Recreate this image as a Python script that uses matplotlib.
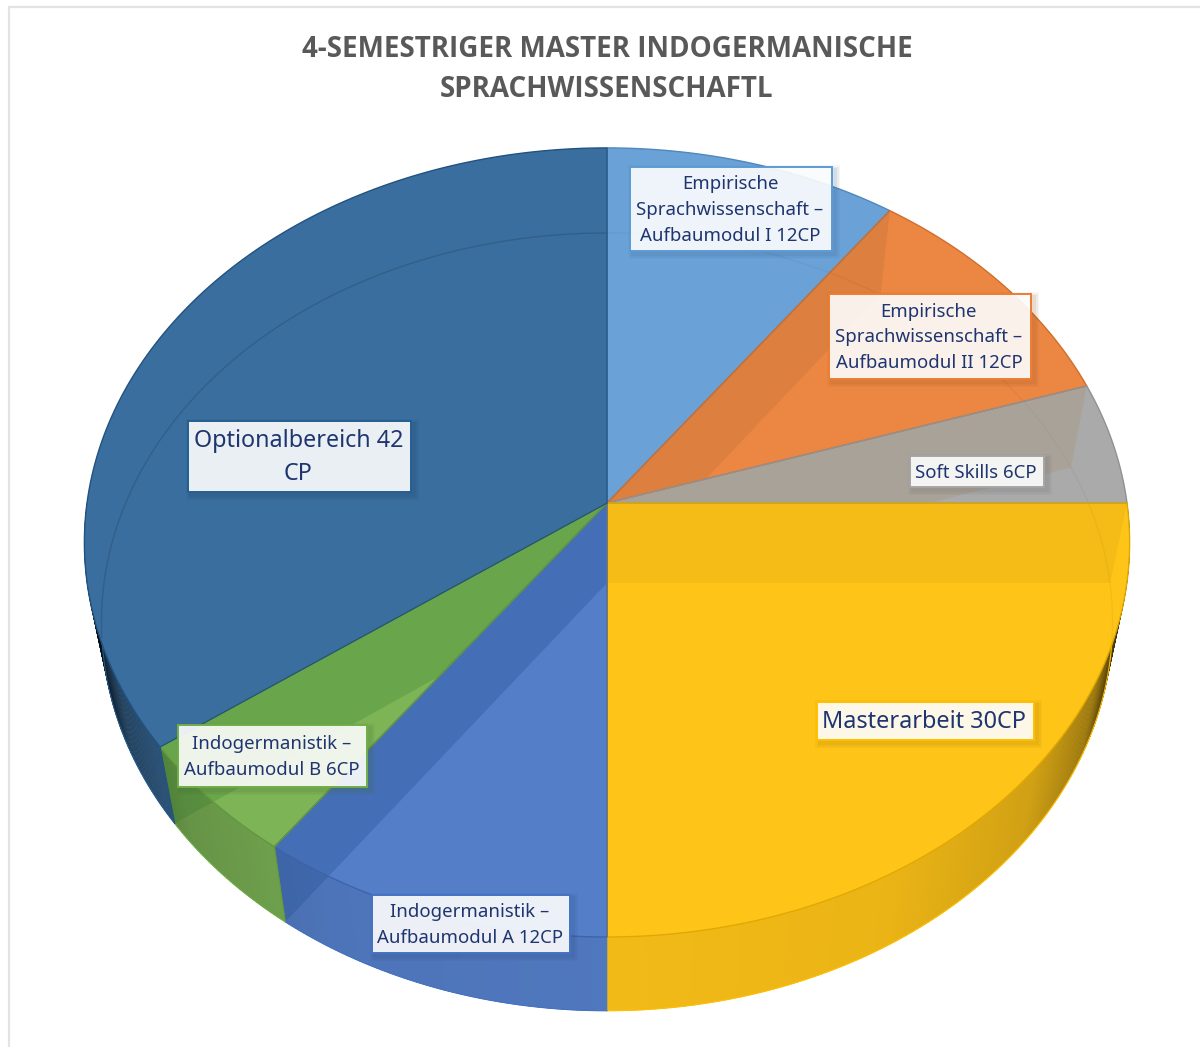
import numpy as np
import matplotlib
matplotlib.use('Agg')
import matplotlib.pyplot as plt
from matplotlib.collections import PolyCollection
from matplotlib.patches import Polygon, Rectangle
from matplotlib.colors import to_rgb

title = "4-SEMESTRIGER MASTER INDOGERMANISCHE\nSPRACHWISSENSCHAFTL"

# credit points, clockwise from 12 o'clock
labels = ["Empirische\nSprachwissenschaft –\nAufbaumodul I 12CP",
          "Empirische\nSprachwissenschaft –\nAufbaumodul II 12CP",
          "Soft Skills 6CP",
          "Masterarbeit 30CP",
          "Indogermanistik –\nAufbaumodul A 12CP",
          "Indogermanistik –\nAufbaumodul B 6CP",
          "Optionalbereich 42\nCP"]
values = [12, 12, 6, 30, 12, 6, 42]
colors = ['#6AA2D8', '#EB8742', '#AAAAAA', '#FFC418', '#547EC8', '#7CB456', '#3A6E9E']
edges = ['#5B9BD5', '#ED7D31', '#A5A5A5', '#FFC000', '#4472C4', '#70AD47', '#255E91']

# label boxes in pixels: x0, y0, x1, y1
boxes = [(630, 167, 832, 251), (829, 294, 1031, 379), (910, 456, 1044, 487),
         (817, 702, 1034, 740), (372, 895, 570, 953), (178, 725, 367, 787),
         (188, 421, 411, 492)]
label_sizes = [13.4, 13.4, 13.4, 16.9, 13.4, 13.4, 16.8]
label_spacing = [1.54, 1.54, 1.54, 1.2, 1.54, 1.54, 1.47]

# radial walls showing through a top face: boundary index, slice, colour, alpha
through = [(1, 1, '#000000', 0.06), (2, 2, '#A8977F', 0.4), (3, 3, '#000000', 0.04),
           (5, 4, '#1F4E90', 0.3), (6, 5, '#1F6B1F', 0.2)]

# perspective of the pie, top face and bottom face
CX = 607
K = 0.1
TOP = (503, 520, 390.6)
BOTTOM = (583, 503, 385)


def project(deg, face):
    y0, a, b = face
    th = np.radians(deg)
    den = 1 + K * np.cos(th)
    return np.column_stack([CX + a * np.sin(th) / den, y0 - b * np.cos(th) / den])


def arc(start, end, face, step=1.0):
    n = max(int(abs(end - start) / step), 2) + 1
    return project(np.linspace(start, end, n), face)


def shade(deg):
    t = np.abs(np.sin(np.radians(deg)))
    return np.interp(t, [0, .5, .77, .9, .95, .98, 1], [.95, .92, .82, .62, .32, .14, .1])


fig = plt.figure(figsize=(12, 10.47), dpi=100)
ax = fig.add_axes([0, 0, 1, 1])
ax.set_xlim(0, 1200)
ax.set_ylim(1047, 0)
ax.axis('off')

ax.plot([9, 9, 1200], [1047, 7, 7], color='#E3E3E3', lw=1.6, zorder=1)

angles = np.concatenate([[0], np.cumsum(values)]) * 360.0 / sum(values)

# outer walls with a shade running along the rim
wall_clips = {}
for i in range(len(values)):
    a0, a1 = angles[i], angles[i + 1]
    lo, hi = max(a0, 90), min(a1, 270)
    if hi <= lo:
        continue
    steps = np.arange(lo, hi, 0.5)
    quads, cols = [], []
    rgb = np.array(to_rgb(colors[i]))
    for s in steps:
        e = min(s + 0.6, hi)
        t = arc(s, e, TOP, 1)
        b = arc(s, e, BOTTOM, 1)
        quads.append(np.vstack([t, b[::-1]]))
        cols.append(tuple(rgb * shade(s + 0.25)))
    ax.add_collection(PolyCollection(quads, facecolors=cols, edgecolors=cols, linewidths=0.4, zorder=2))
    outline = np.vstack([arc(lo, hi, TOP), arc(lo, hi, BOTTOM)[::-1]])
    clip = Polygon(outline, closed=True, fc='none', ec='none', zorder=2)
    ax.add_patch(clip)
    wall_clips[i] = clip
    ax.plot(*arc(lo, hi, BOTTOM).T, color=edges[i], lw=0.8, zorder=2.1)

# top faces
top_clips = {}
for i in range(len(values)):
    pts = np.vstack([[[CX, TOP[0]]], arc(angles[i], angles[i + 1], TOP)])
    p = Polygon(pts, closed=True, fc=colors[i], ec='none', zorder=3)
    ax.add_patch(p)
    top_clips[i] = p

# back of the bottom rim, faint through the top faces
ax.plot(*arc(262, 360, BOTTOM).T, color='#000000', alpha=0.13, lw=1.0, zorder=3.2)
ax.plot(*arc(0, 100, BOTTOM).T, color='#000000', alpha=0.04, lw=1.0, zorder=3.2)

# radial walls seen through the slices
for k, i, col, alpha in through:
    a = np.array([angles[k]])
    wall = np.vstack([[[CX, TOP[0]]], project(a, TOP), project(a, BOTTOM), [[CX, BOTTOM[0]]]])
    for clip in [top_clips.get(i), wall_clips.get(i)]:
        if clip is None:
            continue
        o = Polygon(wall, closed=True, fc=col, ec='none', alpha=alpha, zorder=3.4)
        ax.add_patch(o)
        o.set_clip_path(clip)

# slice outlines
for i in range(len(values)):
    pts = np.vstack([[[CX, TOP[0]]], arc(angles[i], angles[i + 1], TOP)])
    ec = np.array(to_rgb(edges[i])) * 0.88
    ax.add_patch(Polygon(pts, closed=True, fc='none', ec=ec, lw=1.0, zorder=3.6))
    ends = np.vstack([project(np.array([angles[i]]), TOP), project(np.array([angles[i]]), BOTTOM)])
    if 90 < angles[i] < 270 and angles[i] != 180:
        ax.plot(*ends.T, color=ec, lw=0.8, zorder=3.6)

# data labels with a soft shadow
for i, lab in enumerate(labels):
    x0, y0, x1, y1 = boxes[i]
    shadow = np.array(to_rgb(edges[i])) * 0.6
    for grow, al in [(5, 0.05), (3.5, 0.07), (2, 0.09)]:
        ax.add_patch(Rectangle((x0 + 3 - grow, y0 + 3 - grow), x1 - x0 + 2 * grow, y1 - y0 + 2 * grow,
                               fc=shadow, ec='none', alpha=al, zorder=4))
    ax.add_patch(Rectangle((x0, y0), x1 - x0, y1 - y0, fc=(1, 1, 1, 0.9), ec=edges[i], lw=1.4, zorder=5))
    ax.text((x0 + x1) / 2 - 1, (y0 + y1) / 2 + 1, lab, ha='center', va='center', ma='center',
            fontsize=label_sizes[i], family='Noto Sans', color='#1F3570',
            linespacing=label_spacing[i], zorder=6)

ax.text(607, 69.5, title, ha='center', va='center', ma='center', fontsize=20, fontweight='bold',
        family='Open Sans', color='#595959', linespacing=1.5, zorder=6)

fig.savefig('out.png', dpi=100, facecolor='white')
